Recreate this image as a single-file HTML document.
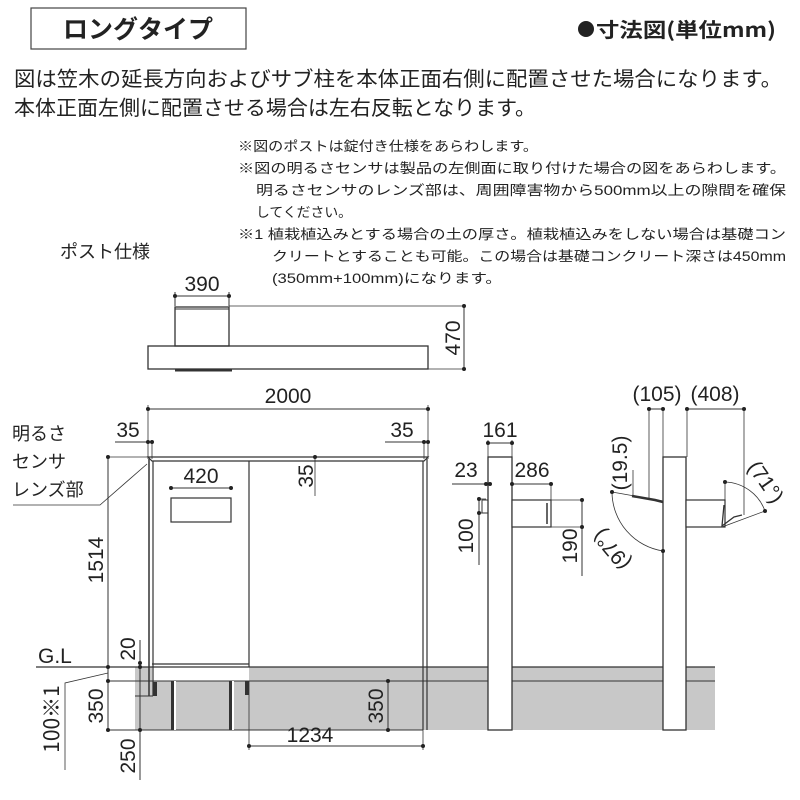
<!DOCTYPE html>
<html><head><meta charset="utf-8"><style>
body{margin:0;background:#fff}
svg{display:block}
text{font-family:"Liberation Sans","Noto Sans CJK JP",sans-serif;fill:#222}
.j{font-family:"Noto Sans CJK JP","Liberation Sans",sans-serif}
</style></head><body>
<svg width="800" height="800" viewBox="0 0 800 800" xmlns="http://www.w3.org/2000/svg">
<rect width="800" height="800" fill="#fff"/>
<rect x="31" y="8" width="215" height="41" fill="#fff" stroke="#444" stroke-width="1.2"/>
<text x="138" y="38" class="j" font-size="25" font-weight="bold" text-anchor="middle">ロングタイプ</text>
<circle cx="586" cy="29" r="8" fill="#222"/>
<text x="596" y="37" class="j" font-size="20" font-weight="bold" textLength="180" lengthAdjust="spacingAndGlyphs">寸法図(単位mm)</text>
<text x="14" y="86" class="j" font-size="20.5" textLength="768" lengthAdjust="spacingAndGlyphs">図は笠木の延長方向およびサブ柱を本体正面右側に配置させた場合になります。</text>
<text x="14" y="115" class="j" font-size="20.5" textLength="522" lengthAdjust="spacingAndGlyphs">本体正面左側に配置させる場合は左右反転となります。</text>
<g class="j" font-size="13.5">
<text x="238" y="151" textLength="300" lengthAdjust="spacingAndGlyphs">※図のポストは錠付き仕様をあらわします。</text>
<text x="238" y="173" textLength="548" lengthAdjust="spacingAndGlyphs">※図の明るさセンサは製品の左側面に取り付けた場合の図をあらわします。</text>
<text x="256" y="195" textLength="530" lengthAdjust="spacingAndGlyphs">明るさセンサのレンズ部は、周囲障害物から500mm以上の隙間を確保</text>
<text x="256" y="217" textLength="96" lengthAdjust="spacingAndGlyphs">してください。</text>
<text x="238" y="239" textLength="548" lengthAdjust="spacingAndGlyphs">※1 植栽植込みとする場合の土の厚さ。植栽植込みをしない場合は基礎コン</text>
<text x="272" y="261" textLength="514" lengthAdjust="spacingAndGlyphs">クリートとすることも可能。この場合は基礎コンクリート深さは450mm</text>
<text x="272" y="283" textLength="230" lengthAdjust="spacingAndGlyphs">(350mm+100mm)になります。</text>
</g>
<text x="60" y="258" class="j" font-size="18">ポスト仕様</text>
<g stroke="#333" fill="none" stroke-width="1">
<line x1="175" y1="296" x2="229" y2="296"/>
<line x1="175" y1="292" x2="175" y2="306"/><line x1="229" y1="292" x2="229" y2="306"/>
<rect x="175" y="307" width="54" height="39" stroke-width="1.3"/>
<line x1="175" y1="309" x2="229" y2="309"/>
<rect x="148" y="346" width="280" height="23" stroke-width="1.3"/>
<line x1="175" y1="370" x2="232" y2="370" stroke-width="3"/>
<line x1="229" y1="306" x2="466" y2="306" stroke-width="0.7"/>
<line x1="428" y1="369" x2="466" y2="369" stroke-width="0.7"/>
<line x1="464" y1="306" x2="464" y2="370"/>
</g>
<text x="202" y="291" font-size="21" text-anchor="middle">390</text>
<text transform="translate(460,338) rotate(-90)" font-size="21" text-anchor="middle">470</text>
<rect x="135" y="667" width="580" height="63" fill="#c8c8c8"/>
<rect x="152" y="667" width="97" height="14" fill="#fff"/>
<g stroke="#333" fill="none" stroke-width="1">
<line x1="36" y1="667" x2="715" y2="667" stroke-width="1.3"/>
<line x1="135" y1="681" x2="715" y2="681"/>
<line x1="148" y1="409" x2="428" y2="409"/>
<line x1="148" y1="405" x2="148" y2="459" stroke-width="0.8"/>
<line x1="428" y1="405" x2="428" y2="459" stroke-width="0.8"/>
<line x1="115" y1="442" x2="152" y2="442"/>
<line x1="152" y1="440" x2="152" y2="459" stroke-width="0.8"/>
<line x1="385" y1="442" x2="428" y2="442"/>
<line x1="424" y1="440" x2="424" y2="459" stroke-width="0.8"/>
<path d="M148 457 L428 457 L424 461 L152 461 Z" stroke-width="1.2"/>
<line x1="149" y1="459" x2="149" y2="696" stroke-width="1.5"/>
<line x1="153" y1="461" x2="153" y2="696" stroke-width="1.2"/>
<line x1="249" y1="461" x2="249" y2="667" stroke-width="1.2"/>
<line x1="152" y1="664" x2="249" y2="664" stroke-width="1.2"/>
<line x1="423" y1="461" x2="423" y2="730" stroke-width="1.2"/>
<line x1="427" y1="459" x2="427" y2="730" stroke-width="1.2"/>
<line x1="135" y1="696" x2="153" y2="696"/>
<line x1="171" y1="488" x2="231" y2="488"/>
<rect x="171" y="498" width="60" height="24" stroke-width="1.2"/>
<line x1="315" y1="457" x2="315" y2="496" stroke-width="0.8"/>
<polyline points="13,505 100,505 147,464" stroke-width="0.8"/>
<line x1="108" y1="457" x2="148" y2="457" stroke-width="0.8"/>
<line x1="108" y1="457" x2="108" y2="730"/>
<line x1="108" y1="681" x2="135" y2="681"/>
<line x1="108" y1="730" x2="423" y2="730"/>
<line x1="140" y1="640" x2="140" y2="780"/>
<polyline points="65,770 65,683 108,673" stroke-width="0.8"/>
<line x1="388" y1="681" x2="388" y2="730"/>
<line x1="249" y1="681" x2="249" y2="750" stroke-width="0.8"/>
<line x1="249" y1="746" x2="423" y2="746"/>
<line x1="423" y1="730" x2="423" y2="750" stroke-width="0.8"/>
<rect x="488" y="457" width="24" height="273" fill="#fff" stroke-width="1.3"/>
<line x1="488" y1="443" x2="512" y2="443"/>
<line x1="488" y1="440" x2="488" y2="457" stroke-width="0.8"/><line x1="512" y1="440" x2="512" y2="457" stroke-width="0.8"/>
<line x1="452" y1="484" x2="488" y2="484"/>
<line x1="512" y1="484" x2="551" y2="484"/>
<line x1="551" y1="484" x2="551" y2="500" stroke-width="0.8"/>
<rect x="512" y="500" width="39" height="27" fill="#fff" stroke-width="1.2"/>
<rect x="482" y="500" width="6" height="13" stroke-width="1"/>
<line x1="479" y1="499" x2="479" y2="565"/>
<line x1="479" y1="499" x2="486" y2="499" stroke-width="0.8"/><line x1="479" y1="513" x2="486" y2="513" stroke-width="0.8"/>
<line x1="551" y1="500" x2="582" y2="500" stroke-width="0.8"/>
<line x1="551" y1="527" x2="582" y2="527" stroke-width="0.8"/>
<line x1="582" y1="500" x2="582" y2="576"/>
<line x1="547" y1="503" x2="547" y2="524" stroke-width="1.5"/>
<rect x="663" y="457" width="23" height="273" fill="#fff" stroke-width="1.3"/>
<rect x="686" y="500" width="39" height="27" fill="#fff" stroke-width="1.2"/>
<line x1="649" y1="409" x2="664" y2="409"/>
<line x1="687" y1="409" x2="744" y2="409"/>
<line x1="649" y1="409" x2="649" y2="500" stroke-width="0.8"/>
<line x1="663" y1="409" x2="663" y2="457" stroke-width="0.8"/>
<line x1="687" y1="409" x2="687" y2="457" stroke-width="0.8"/>
<line x1="744" y1="409" x2="744" y2="515" stroke-width="0.8"/>
<line x1="633" y1="470" x2="633" y2="497" stroke-width="0.8"/>
<line x1="612" y1="492" x2="663" y2="501" stroke-width="0.8"/>
<path d="M632 496 L655 500 L663 502" stroke-width="2.5"/>
<path d="M612 492 A60 60 0 0 0 663 551" stroke-width="0.8"/>
<line x1="725" y1="482" x2="725" y2="508" stroke-width="0.8"/>
<path d="M725 482 A44 44 0 0 1 765 511" stroke-width="0.8"/>
<line x1="722" y1="527" x2="765" y2="511" stroke-width="0.8"/>
<path d="M724 505 L722 526 L734 517 L742 515" stroke-width="1.3"/>
</g>
<g fill="#222">
<circle cx="175" cy="296" r="2"/><circle cx="229" cy="296" r="2"/><circle cx="464" cy="306" r="2"/><circle cx="464" cy="369" r="2"/>
<circle cx="148" cy="409" r="2"/><circle cx="428" cy="409" r="2"/>
<circle cx="148" cy="442" r="2"/><circle cx="152" cy="442" r="2"/><circle cx="424" cy="442" r="2"/><circle cx="428" cy="442" r="2"/>
<circle cx="315" cy="457" r="2"/><circle cx="171" cy="488" r="2"/><circle cx="231" cy="488" r="2"/>
<circle cx="108" cy="457" r="2"/><circle cx="108" cy="667" r="2"/><circle cx="108" cy="681" r="2"/><circle cx="108" cy="730" r="2"/>
<circle cx="140" cy="667" r="2"/><circle cx="140" cy="730" r="2"/><circle cx="140" cy="663" r="2"/>
<circle cx="388" cy="681" r="2"/><circle cx="388" cy="730" r="2"/><circle cx="249" cy="746" r="2"/><circle cx="423" cy="746" r="2"/>
<circle cx="488" cy="443" r="2"/><circle cx="512" cy="443" r="2"/><circle cx="486" cy="484" r="2"/><circle cx="490" cy="484" r="2"/><circle cx="512" cy="484" r="2"/><circle cx="551" cy="484" r="2"/>
<circle cx="479" cy="499" r="2"/><circle cx="479" cy="513" r="2"/><circle cx="582" cy="500" r="2"/><circle cx="582" cy="527" r="2"/>
<circle cx="649" cy="409" r="2"/><circle cx="663" cy="409" r="2"/><circle cx="687" cy="409" r="2"/><circle cx="744" cy="409" r="2"/>
<circle cx="612" cy="492" r="2"/><circle cx="663" cy="551" r="2"/><circle cx="725" cy="482" r="2"/><circle cx="765" cy="511" r="2"/>
</g>
<g fill="#333">
<rect x="153" y="682" width="4" height="14"/>
<rect x="171" y="681" width="3" height="49"/><rect x="229" y="681" width="3" height="49"/>
<rect x="245" y="681" width="4" height="14"/>
</g>
<rect x="174" y="681" width="2" height="49" fill="#fff"/><rect x="232" y="681" width="2" height="49" fill="#fff"/>
<g font-size="21">
<text x="288" y="403" text-anchor="middle">2000</text>
<text x="128" y="437" text-anchor="middle">35</text>
<text x="402" y="437" text-anchor="middle">35</text>
<text x="201" y="483" text-anchor="middle">420</text>
<text transform="translate(313,476) rotate(-90)" text-anchor="middle">35</text>
<text transform="translate(103,560) rotate(-90)" text-anchor="middle">1514</text>
<text x="38" y="663">G.L</text>
<text transform="translate(135,649) rotate(-90)" text-anchor="middle">20</text>
<text transform="translate(103,706) rotate(-90)" text-anchor="middle">350</text>
<text transform="translate(135,756) rotate(-90)" text-anchor="middle">250</text>
<text transform="translate(59,719) rotate(-90)" text-anchor="middle" class="j">100※1</text>
<text transform="translate(383,706) rotate(-90)" text-anchor="middle">350</text>
<text x="310" y="742" text-anchor="middle">1234</text>
<text x="500" y="437" text-anchor="middle">161</text>
<text x="466" y="477" text-anchor="middle">23</text>
<text x="532" y="477" text-anchor="middle">286</text>
<text transform="translate(473,536) rotate(-90)" text-anchor="middle">100</text>
<text transform="translate(577,546) rotate(-90)" text-anchor="middle">190</text>
<text x="657" y="401" text-anchor="middle">(105)</text>
<text x="715" y="401" text-anchor="middle">(408)</text>
<text transform="translate(627,463) rotate(-90)" text-anchor="middle">(19.5)</text>
<text transform="translate(760,486) rotate(55)" text-anchor="middle">(71°)</text>
<text transform="translate(617,545) rotate(-130)" text-anchor="middle">(97°)</text>
</g>
<g class="j" font-size="18">
<text x="12" y="440">明るさ</text>
<text x="12" y="468">センサ</text>
<text x="12" y="496">レンズ部</text>
</g>
</svg>
</body></html>
